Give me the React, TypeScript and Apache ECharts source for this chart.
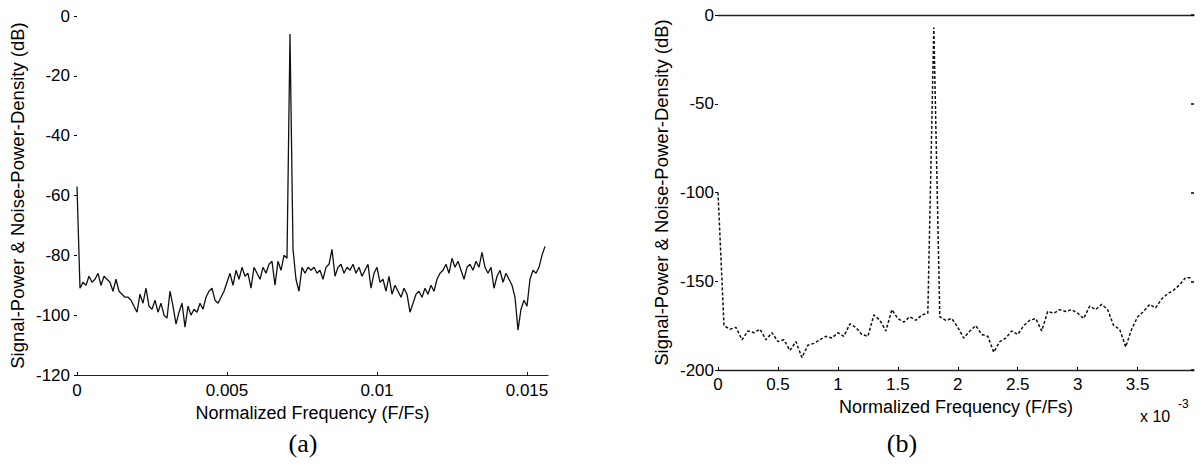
import React, { useEffect, useRef } from "react";
import * as echarts from "echarts";

// (a) PSD, frequency bins of 0.0001 (F/Fs), values in dB
const STEP_A = 0.0001;
const PSD_A = [
  -57, -91, -89, -90, -87, -89, -88, -86, -90, -87, -88,
  -89, -92, -88, -92, -93,
  -94, -94, -95, -97, -99,
  -93, -96, -91, -97, -98, -95, -99, -96, -100, -101,
  -92, -97, -103, -99, -96,
  -104, -97, -100, -98, -99,
  -96, -98, -94, -92, -91,
  -95, -96, -94, -92, -89,
  -86, -90, -85, -88, -84,
  -87, -86, -91, -84, -86,
  -88, -84, -86, -83, -82,
  -90, -82, -85, -80, -81,
  -6,
  -78,
  -88, -92, -84, -86, -84, -85, -84, -86,
  -85, -88, -84, -83, -78,
  -87, -84, -83, -86, -84,
  -85, -83, -86, -84, -87,
  -85, -83, -91, -86, -84,
  -89, -88, -92, -87, -93,
  -90, -92, -94, -91, -93,
  -99, -96, -93,
  -92, -94, -91, -93, -90, -92, -88,
  -86, -85, -83, -86, -81,
  -84, -82, -85, -88, -84,
  -83, -85, -82, -84, -79,
  -84, -86, -84, -91, -87,
  -85, -89, -86, -88, -90,
  -94, -105,
  -98, -95, -97,
  -88, -85, -86,
  -84, -80, -77,
];

// (b) PSD, frequency bins of 0.05e-3 (F/Fs), values in dB
const STEP_B = 0.00005;
const PSD_B = [
  -100, -175, -177, -176, -183, -178, -179, -177, -183, -179,
  -184, -183, -189, -184, -193, -186, -185, -183, -181, -182,
  -179, -181, -174, -176, -180, -181, -169, -172, -178, -166,
  -171, -173, -170, -172, -169, -168, -7, -170, -172, -171,
  -176, -182, -178, -175, -180, -181, -190, -184, -182, -178,
  -180, -175, -172, -171, -178, -167, -168, -166, -167, -166,
  -168, -171, -164, -166, -163, -166, -175, -177, -187, -177,
  -170, -167, -163, -165, -160, -157, -155, -152, -148, -148,
];

const X_TICKS_A = [0, 0.005, 0.01, 0.015];
const X_TICKS_B = [0, 0.5, 1, 1.5, 2, 2.5, 3, 3.5];

const FONT = "Liberation Sans, Arial, sans-serif";
const INK = "#000";

export default function App() {
  const ref = useRef<HTMLDivElement>(null);
  useEffect(() => {
    if (!ref.current) return;
    const chart = echarts.init(ref.current, undefined, { renderer: "svg" });
    const dataA = PSD_A.map((v, i) => [i * STEP_A, v]);
    const dataB = PSD_B.map((v, i) => [i * STEP_B, v]);
    const fmtA = (v: number) => {
      const r = parseFloat(v.toFixed(4));
      return X_TICKS_A.some((t) => Math.abs(t - r) < 1e-9) ? String(r) : "";
    };
    const fmtB = (v: number) => {
      const r = parseFloat((v * 1000).toFixed(3));
      return X_TICKS_B.some((t) => Math.abs(t - r) < 1e-9) ? String(r) : "";
    };
    const yName = "Signal-Power & Noise-Power-Density (dB)";
    const xName = "Normalized Frequency (F/Fs)";
    const labelStyle = { color: INK, fontFamily: FONT, fontSize: 17 };
    chart.setOption({
      animation: false,
      backgroundColor: "#fff",
      grid: [
        { left: 77, top: 16, width: 471, height: 359 },
        { left: 718, top: 15, width: 476, height: 355 },
      ],
      xAxis: [
        {
          type: "value", gridIndex: 0, min: 0, max: 0.0157, interval: 0.005,
          position: "bottom",
          axisLine: { show: true, onZero: false, lineStyle: { color: "#222", width: 1.2 } },
          axisTick: { show: true, inside: true, length: 3, lineStyle: { color: INK } },
          splitLine: { show: false },
          axisLabel: { ...labelStyle, margin: 7, formatter: fmtA, showMaxLabel: false },
          name: xName, nameLocation: "middle", nameGap: 23,
          nameTextStyle: { color: INK, fontFamily: FONT, fontSize: 18 },
        },
        {
          type: "value", gridIndex: 1, min: 0, max: 0.00397, interval: 0.0005,
          position: "bottom",
          axisLine: { show: true, onZero: false, lineStyle: { color: "#222", width: 1.4 } },
          axisTick: { show: true, inside: true, length: 3, lineStyle: { color: INK } },
          splitLine: { show: false },
          axisLabel: { ...labelStyle, margin: 6, formatter: fmtB, showMaxLabel: false },
          name: xName, nameLocation: "middle", nameGap: 22,
          nameTextStyle: { color: INK, fontFamily: FONT, fontSize: 18 },
        },
        {
          type: "value", gridIndex: 1, min: 0, max: 0.00397, interval: 0.0005,
          position: "top",
          axisLine: { show: true, onZero: false, lineStyle: { color: "#222", width: 1.4 } },
          axisTick: { show: false },
          axisLabel: { show: false },
          splitLine: { show: false },
        },
      ],
      yAxis: [
        {
          type: "value", gridIndex: 0, min: -120, max: 0, interval: 20,
          axisLine: { show: false, onZero: false },
          axisTick: { show: true, length: 3, lineStyle: { color: INK } },
          splitLine: { show: false },
          axisLabel: { ...labelStyle, margin: 7 },
          name: yName, nameLocation: "middle", nameGap: 50,
          nameTextStyle: { color: INK, fontFamily: FONT, fontSize: 18.5 },
        },
        {
          type: "value", gridIndex: 1, min: -200, max: 0, interval: 50,
          axisLine: { show: false, onZero: false },
          axisTick: { show: true, length: 3, lineStyle: { color: INK } },
          splitLine: { show: false },
          axisLabel: { ...labelStyle, margin: 4 },
          name: yName, nameLocation: "middle", nameGap: 47,
          nameTextStyle: { color: INK, fontFamily: FONT, fontSize: 18.5 },
        },
        {
          type: "value", gridIndex: 1, min: -200, max: 0, interval: 50,
          position: "right",
          axisLine: { show: false, onZero: false },
          axisTick: { show: true, inside: true, length: 3, lineStyle: { color: INK, width: 1.5 } },
          splitLine: { show: false },
          axisLabel: { show: false },
        },
      ],
      series: [
        {
          type: "line", xAxisIndex: 0, yAxisIndex: 0, data: dataA,
          showSymbol: false, silent: true,
          lineStyle: { color: "#111", width: 1.3 },
        },
        {
          type: "line", xAxisIndex: 1, yAxisIndex: 1, data: dataB,
          showSymbol: false, silent: true,
          lineStyle: { color: "#111", width: 1.5, type: [3, 2] },
        },
      ],
      graphic: [
        {
          type: "text", x: 303, y: 430,
          style: { text: "(a)", font: "26px 'Liberation Serif', 'Times New Roman', serif", fill: INK, textAlign: "center" },
        },
        {
          type: "text", x: 902, y: 430,
          style: { text: "(b)", font: "26px 'Liberation Serif', 'Times New Roman', serif", fill: INK, textAlign: "center" },
        },
        {
          type: "text", x: 1140, y: 408,
          style: { text: "x 10", font: `16px ${FONT}`, fill: INK },
        },
        {
          type: "text", x: 1178, y: 398,
          style: { text: "-3", font: `12px ${FONT}`, fill: INK },
        },
      ],
    });
    return () => chart.dispose();
  }, []);
  return (
    <div
      ref={ref}
      style={{ position: "fixed", left: 0, top: 0, width: 1201, height: 467, background: "#fff" }}
    />
  );
}
